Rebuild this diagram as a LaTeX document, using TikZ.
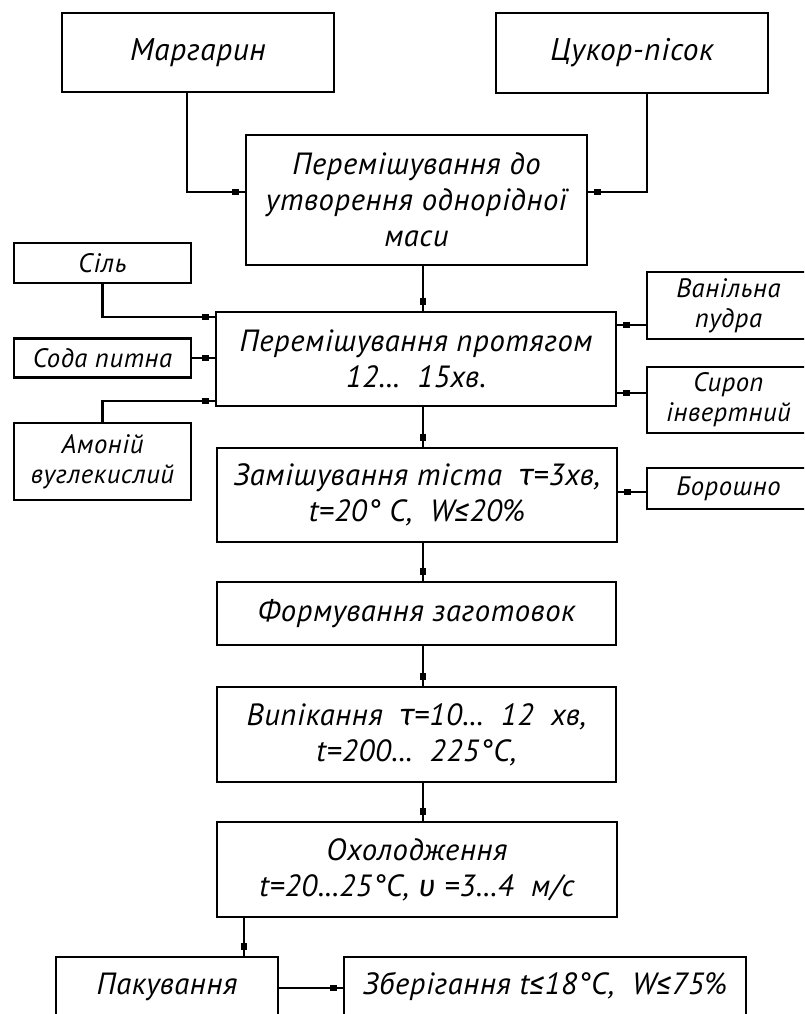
\documentclass[tikz,border=0pt]{standalone}
\usepackage{fontspec}
\setmainfont{PT Sans}[LetterSpace=2]
\newfontfamily\symf{Fira Sans}[LetterSpace=2]
\usetikzlibrary{decorations.markings}
\newcommand\gr[1]{{\symf\itshape #1}}
\tikzset{
  box/.style={draw, line width=2.2pt, inner sep=0pt, align=center},
  bigbox/.style={box, font=\fontsize{23.5}{27}\selectfont\itshape},
  mainbox/.style={box, font=\fontsize{23}{27}\selectfont\itshape},
  smallbox/.style={box, font=\fontsize{20}{22.5}\selectfont\itshape},
  conn/.style={line width=2pt, postaction={decorate},
    decoration={markings, mark=at position -6.75pt with {\fill (-2.4pt,-2pt) rectangle (2.4pt,2pt);}}},
}
\begin{document}
\begin{tikzpicture}[x=0.75pt,y=-0.75pt]
\useasboundingbox (0,0) rectangle (804,1014);
\clip (0,0) rectangle (804,1014);
% boxes
\node[bigbox, minimum width={272*0.75pt}, minimum height={79*0.75pt}] (marg) at (198,52.5) {Маргарин};
\node[bigbox, minimum width={272*0.75pt}, minimum height={80*0.75pt}] (sugar) at (632,53) {Цукор-пісок};
\node[mainbox, minimum width={341*0.75pt}, minimum height={130*0.75pt}] (mix1) at (416.5,200) {Перемішування до\\утворення однорідної\\маси};
\node[smallbox, minimum width={177*0.75pt}, minimum height={40*0.75pt}] (salt) at (102.5,263) {Сіль};
\node[smallbox, minimum width={177*0.75pt}, minimum height={39*0.75pt}] (soda) at (102.5,358) {Сода питна};
\node[smallbox, minimum width={177*0.75pt}, minimum height={77*0.75pt}] (amm) at (102.5,461.5) {Амоній\\вуглекислий};
\node[mainbox, minimum width={400*0.75pt}, minimum height={94*0.75pt}] (mix2) at (416,359) {Перемішування протягом\\12...\ \ 15хв.};
\node[smallbox, minimum width={163*0.75pt}, minimum height={67*0.75pt}] (van) at (728.5,305.5) {Ванільна\\пудра};
\node[smallbox, minimum width={163*0.75pt}, minimum height={66*0.75pt}] (syr) at (728.5,400) {Сироп\\інвертний};
\node[smallbox, minimum width={163*0.75pt}, minimum height={41*0.75pt}] (flour) at (728.5,488.5) {Борошно};
\node[mainbox, minimum width={400*0.75pt}, minimum height={94*0.75pt}] (knead) at (417,495) {Замішування тіста\ \ \gr{τ}=3хв,\\t=20° C,\ \ W\gr{≤}20\%};
\node[mainbox, minimum width={399*0.75pt}, minimum height={63*0.75pt}] (form) at (416.5,613.5) {Формування заготовок};
\node[mainbox, minimum width={399*0.75pt}, minimum height={95*0.75pt}] (bake) at (416.5,734.5) {Випікання\ \ \gr{τ}=10...\ \ 12\ \ хв,\\t=200...\ \ 225°C,};
\node[mainbox, minimum width={400*0.75pt}, minimum height={95*0.75pt}] (cool) at (417,869.5) {Охолодження\\t=20...25°C,\ \gr{υ} =3...4\ \ м/с};
\node[mainbox, minimum width={222*0.75pt}, minimum height={59*0.75pt}] (pack) at (167,986.5) {Пакування};
\node[mainbox, minimum width={402*0.75pt}, minimum height={59*0.75pt}] (store) at (545,986.5) {Зберігання t\gr{≤}18°C,\ \ W\gr{≤}75\%};
% guide coordinates
\coordinate (mX) at (187,0);
\coordinate (sX) at (647,0);
\coordinate (spine) at (423,0);
\coordinate (pX) at (244,0);
\coordinate (lvTop) at (0,192);
\coordinate (lvSalt) at (0,317);
\coordinate (lvAmm) at (0,401);
\coordinate (lvVan) at (0,325);
\coordinate (lvSyr) at (0,393);
\coordinate (lvFlour) at (0,492);
\coordinate (lvPS) at (0,988);
% connectors
\draw[conn] (marg.south -| mX) |- (mix1.west |- lvTop);
\draw[conn] (sugar.south -| sX) |- (mix1.east |- lvTop);
\draw[conn] (mix1.south -| spine) -- (mix2.north -| spine);
\draw[conn] (salt.south) |- (mix2.west |- lvSalt);
\draw[conn] (soda.east) -- (mix2.west |- soda.east);
\draw[conn] (amm.north) |- (mix2.west |- lvAmm);
\draw[conn] (van.west |- lvVan) -- (mix2.east |- lvVan);
\draw[conn] (syr.west |- lvSyr) -- (mix2.east |- lvSyr);
\draw[conn] (mix2.south -| spine) -- (knead.north -| spine);
\draw[conn] (flour.west |- lvFlour) -- (knead.east |- lvFlour);
\draw[conn] (knead.south -| spine) -- (form.north -| spine);
\draw[conn] (form.south -| spine) -- (bake.north -| spine);
\draw[conn] (bake.south -| spine) -- (cool.north -| spine);
\draw[conn] (cool.south -| pX) -- (pack.north -| pX);
\draw[conn] (pack.east |- lvPS) -- (store.west |- lvPS);
\end{tikzpicture}
\end{document}
